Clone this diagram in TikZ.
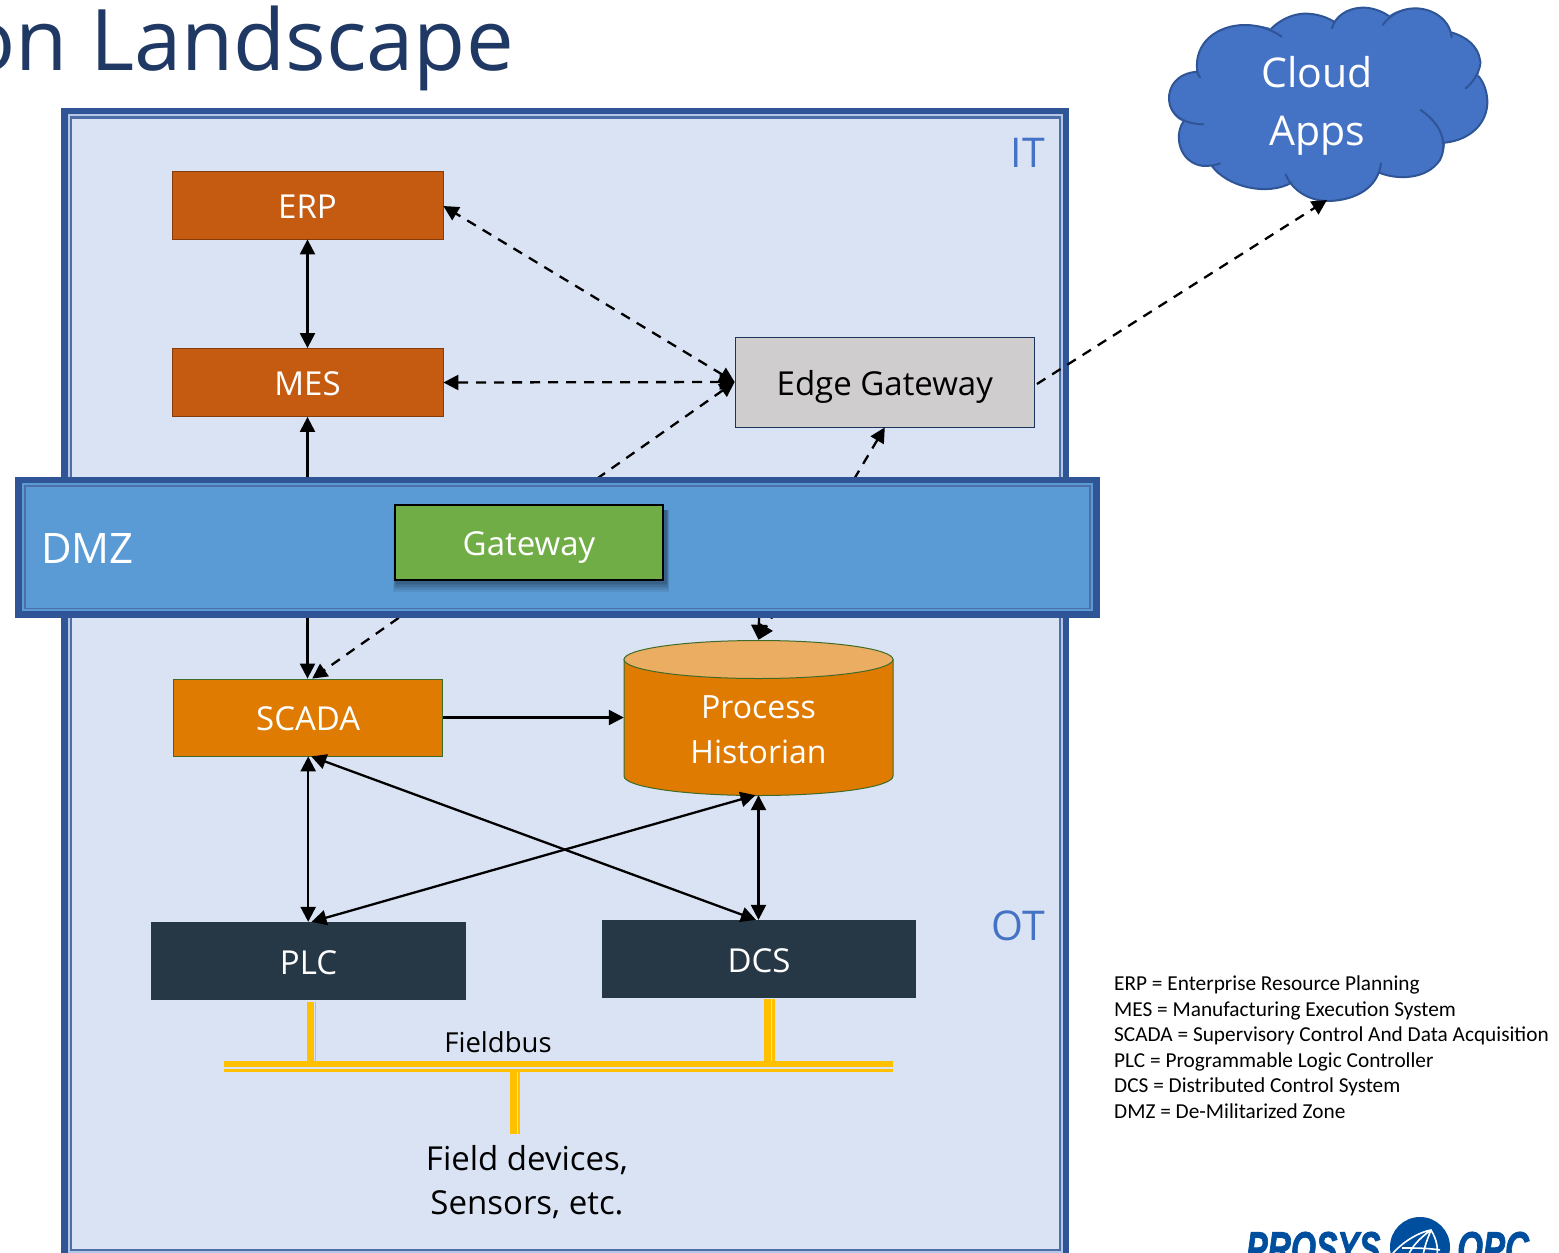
\documentclass[tikz,border=0pt]{standalone}
\usepackage{fontspec}
\setmainfont{Open Sans}
\newfontfamily\legendfont{Carlito}
\newfontfamily\titlefont{Open Sans}
\newfontfamily\logofont[BoldItalicFeatures={FakeBold=2}]{Liberation Sans}
\usetikzlibrary{arrows.meta}
\definecolor{frameblue}{HTML}{2F5597}
\definecolor{framegap}{HTML}{B4C7E7}
\definecolor{itfill}{HTML}{DAE3F3}
\definecolor{dmzfill}{HTML}{5B9BD5}
\definecolor{labelblue}{HTML}{4472C4}
\definecolor{rust}{HTML}{C55A11}
\definecolor{rustedge}{HTML}{843C0C}
\definecolor{amber}{HTML}{DF7B00}
\definecolor{amberlight}{HTML}{EBAD62}
\definecolor{greenedge}{HTML}{3F6B2A}
\definecolor{navy}{HTML}{263746}
\definecolor{edgegrey}{HTML}{CFCDCE}
\definecolor{greenbox}{HTML}{70AD47}
\definecolor{bus}{HTML}{FFC000}
\definecolor{titleblue}{HTML}{203864}
\definecolor{logoblue}{HTML}{004F9F}
\definecolor{cloudedge}{HTML}{2F5597}
\tikzset{
  x=1pt,y=-1pt,
  boxtext/.style={font=\fontsize{33}{45}\selectfont,text=white,align=center,inner sep=0pt},
  oneline/.style={boxtext,text height=26.4pt,text depth=0pt},
  rustbox/.style={oneline,fill=rust,draw=rustedge,line width=.8pt},
  amberbox/.style={oneline,fill=amber,draw=greenedge,line width=.8pt},
  navybox/.style={oneline,fill=navy,draw=navy,line width=.8pt},
  link/.style={line width=2.3pt,black},
  both/.style={{Triangle[length=15pt,width=15pt]}-{Triangle[length=15pt,width=15pt]}},
  toonly/.style={-{Triangle[length=15pt,width=15pt]}},
  dashlink/.style={link,dash pattern=on 10pt off 8pt},
  busbar/.style={draw=bus},
  zonelabel/.style={font=\fontsize{41}{48}\selectfont,text=labelblue,inner sep=0pt},
}
\begin{document}
\begin{tikzpicture}
\clip (0,0) rectangle (1559,1253);
\path[use as bounding box] (0,0) rectangle (1559,1253);
\fill[white] (0,0) rectangle (1559,1253);

% title
\node[anchor=base east,inner sep=0pt,text=titleblue,font=\titlefont\fontsize{85}{90}\selectfont] (title) at (514,70) {on Landscape};

% IT/OT frame
\fill[frameblue] (61,107.5) rectangle (1069,1300);
\fill[framegap] (67.5,114) rectangle (1062.5,1254);
\fill[frameblue!85!white] (69.5,116) rectangle (1060.5,1251);
\fill[itfill] (71.5,118.5) rectangle (1058.5,1248.5);
\node[zonelabel,anchor=base east] (it) at (1045,167) {IT};
\node[zonelabel,anchor=base east] (ot) at (1045,940) {OT};

% nodes
\node[rustbox,minimum width=271pt,minimum height=68pt] (erp) at (307.5,205) {ERP};
\node[rustbox,minimum width=271pt,minimum height=68pt] (mes) at (307.5,382.5) {MES};
\node[oneline,text=black,fill=edgegrey,draw=frameblue!60!black,line width=.8pt,minimum width=299.5pt,minimum height=90pt] (edge) at (884.8,382) {Edge Gateway};
\node[amberbox,minimum width=269pt,minimum height=77pt] (scada) at (308.2,717.5) {SCADA};
\fill[amber,draw=greenedge,line width=1pt] (624,659.5) -- (624,776) .. controls (624,787) and (684,795.5) .. (758.5,795.5) .. controls (833,795.5) and (893,787) .. (893,776) -- (893,659.5) -- cycle;
\fill[amberlight,draw=greenedge,line width=1pt] (758.5,659.5) ellipse [x radius=134.5pt,y radius=19pt];
\node[boxtext,minimum width=269pt,minimum height=155pt] (hist) at (758.5,717.5) {};
\node[boxtext,font=\fontsize{32}{45}\selectfont] (histtext) at (758.5,730) {Process\\Historian};
\node[navybox,minimum width=314pt,minimum height=77.5pt] (plc) at (308.5,961) {PLC};
\node[navybox,minimum width=313.5pt,minimum height=77.5pt] (dcs) at (759,959) {DCS};

% fieldbus
\coordinate (busl) at (223.5,1064);
\coordinate (busr) at (893,1064);
\coordinate (devtop) at (513.5,1069);
\coordinate (devbot) at (513.5,1134);
\coordinate (busplc) at (310,1061);
\coordinate (plcbot) at (310,1002);
\coordinate (busdcs) at (767,1061);
\coordinate (dcsbot) at (767,999);
\draw[busbar,line width=6.5pt] (busl) -- (busr);
\draw[busbar,line width=2.5pt] ([yshift=-6.5pt]busl) -- ([yshift=-6.5pt]busr);
\draw[busbar,line width=7pt] (plcbot) -- (busplc);
\draw[busbar,line width=1.8pt] ([xshift=5.5pt]plcbot) -- ([xshift=5.5pt]busplc);
\draw[busbar,line width=7pt] (dcsbot) -- (busdcs);
\draw[busbar,line width=2.5pt] ([xshift=6.5pt]dcsbot) -- ([xshift=6.5pt]busdcs);
\draw[busbar,line width=7pt] (devtop) -- (devbot);
\draw[busbar,line width=2.5pt] ([xshift=5.5pt]devtop) -- ([xshift=5.5pt]devbot);
\node[inner sep=0pt,font=\fontsize{27.5}{33}\selectfont] (fieldbus) at (498,1042) {Fieldbus};
\node[inner sep=0pt,align=center,font=\fontsize{33}{44}\selectfont] (devices) at (527,1182) {Field devices,\\Sensors, etc.};

% cloud
\begin{scope}[shift={(1150,0)},x=.3333pt,y=-.3333pt]
\fill[labelblue] (142,215) .. controls (80,220) and (55,260) .. (57,300) .. controls (60,335) and (75,355) .. (100,365)
 .. controls (70,410) and (90,490) .. (160,498) -- (185,497) .. controls (230,560) and (350,590) .. (425,548)
 .. controls (450,590) and (490,605) .. (540,603) .. controls (620,600) and (670,570) .. (688,518)
 .. controls (740,540) and (830,540) .. (870,480) .. controls (880,465) and (885,445) .. (885,428)
 .. controls (960,420) and (1015,370) .. (1012,300) .. controls (1010,270) and (1000,245) .. (985,228)
 -- (990,180) .. controls (985,140) and (950,110) .. (903,97) .. controls (900,60) and (850,25) .. (795,25)
 .. controls (755,25) and (735,35) .. (715,47) .. controls (690,30) and (660,22) .. (635,23)
 .. controls (600,25) and (570,40) .. (552,65) .. controls (520,45) and (480,38) .. (450,42)
 .. controls (415,47) and (385,65) .. (365,85) .. controls (340,78) and (310,73) .. (285,75)
 .. controls (200,75) and (130,130) .. (142,215) -- cycle;
\draw[cloudedge,line width=2pt,line cap=round]
 (150,232) .. controls (145,225) and (143,220) .. (142,215) .. controls (80,220) and (55,260) .. (57,300) .. controls (60,345) and (100,372) .. (160,373)
 (100,365) .. controls (70,410) and (90,490) .. (160,498) .. controls (180,498) and (200,495) .. (210,490)
 (185,497) .. controls (230,560) and (350,590) .. (425,548)
 (407,523) .. controls (430,580) and (490,605) .. (540,603) .. controls (620,600) and (685,560) .. (693,490)
 (688,518) .. controls (740,540) and (830,540) .. (870,480) .. controls (890,440) and (885,380) .. (812,330)
 (885,428) .. controls (960,420) and (1015,370) .. (1012,300) .. controls (1010,270) and (1000,245) .. (985,228)
 (947,265) .. controls (985,235) and (995,190) .. (990,180) .. controls (985,140) and (950,110) .. (903,97)
 (905,112) .. controls (900,60) and (850,25) .. (795,25) .. controls (755,25) and (720,45) .. (698,75)
 (715,47) .. controls (690,30) and (660,22) .. (635,23) .. controls (590,25) and (555,50) .. (546,85)
 (552,65) .. controls (520,45) and (480,38) .. (450,42) .. controls (415,47) and (385,65) .. (365,85)
 (395,110) .. controls (360,85) and (320,75) .. (285,75) .. controls (200,75) and (130,130) .. (142,215);
\end{scope}
\node[boxtext,font=\fontsize{41}{58}\selectfont] (cloud) at (1317,105.5) {Cloud\\Apps};
\coordinate (cloudtip) at (1327,200);

% connectors (pass behind the DMZ band)
\draw[link,both] (erp) -- (mes);
\draw[link,both] (mes) -- (mes |- scada.north);
\draw[link,toonly] (scada) -- (hist);
\draw[link,both] (scada.south) -- (scada.south |- plc.north);
\draw[link,both] (hist.south) -- (hist.south |- dcs.north);
\draw[link,both] ([xshift=3pt]scada.south) -- ([xshift=-3pt]dcs.north);
\draw[link,both] ([xshift=-3pt]hist.south) -- ([xshift=3pt]plc.north);
\draw[dashlink,both] (edge.west) -- ([yshift=-1pt]erp.east);
\draw[dashlink,both] (edge.west) -- (mes.east);
\draw[dashlink,both] (edge.west) -- ([xshift=4pt]scada.north);
\draw[dashlink,both] (edge.south) -- (hist.north);
\draw[dashlink,toonly] ([yshift=-2pt,xshift=2pt]edge.east) -- (cloudtip);

% DMZ band
\fill[frameblue] (15,476.5) rectangle (1100,618);
\fill[dmzfill] (22,483) rectangle (1093,611);
\fill[frameblue!85!white] (24,485) rectangle (1091,609);
\fill[dmzfill] (26,487) rectangle (1089,607.5);
\coordinate (dmzdrop) at (759,618);
\draw[link,toonly] (dmzdrop) -- (hist.north);
\node[inner sep=0pt,anchor=base west,text=white,font=\fontsize{42}{50}\selectfont] (dmz) at (41,563) {DMZ};
\foreach \i in {1,...,6}
  \fill[black,opacity=.07] (396-\i*.5,510) rectangle (666+\i*.5,582+\i*1.6);
\node[oneline,fill=greenbox,draw=black,line width=2.8pt,minimum width=268pt,minimum height=75pt] (gateway) at (529,542.5) {Gateway};

% legend
\node[anchor=north west,inner sep=0pt,align=left,font=\legendfont\fontsize{21.3}{25.6}\selectfont] (legend) at (1114,975.5) {ERP = Enterprise Resource Planning\\MES = Manufacturing Execution System\\SCADA = Supervisory Control And Data Acquisition\\PLC = Programmable Logic Controller\\DCS = Distributed Control System\\DMZ = De-Militarized Zone};

% logo
\fill[logoblue] (1420,1247) circle [radius=30pt];
\draw[white,line width=1.6pt] (1393,1253) .. controls (1405,1240) and (1420,1232) .. (1431,1230) .. controls (1437,1240) and (1438,1248) .. (1437,1256)
  (1431,1230) .. controls (1420,1238) and (1412,1246) .. (1408,1256)
  (1431,1230) .. controls (1427,1240) and (1424,1248) .. (1423,1256)
  (1402,1248) .. controls (1415,1248) and (1428,1248) .. (1440,1250);
\node[anchor=base west,inner sep=0pt,text=logoblue,font=\logofont\bfseries\itshape\fontsize{46}{50}\selectfont] (logoa) at (1246,1264) {\scalebox{.7}[1]{PROSYS}};
\node[anchor=base west,inner sep=0pt,text=logoblue,font=\logofont\bfseries\itshape\fontsize{46}{50}\selectfont] (logob) at (1457,1264) {\scalebox{.72}[1]{OPC}};
\end{tikzpicture}
\end{document}
